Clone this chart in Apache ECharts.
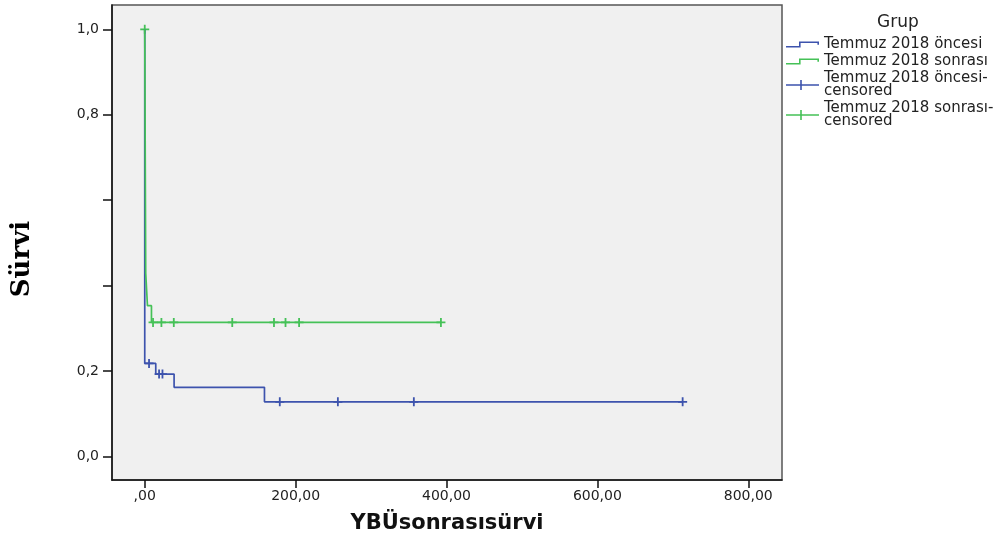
<!DOCTYPE html>
<html><head><meta charset="utf-8">
<script src="https://cdn.jsdelivr.net/npm/echarts@6/dist/echarts.min.js"></script>
<style>html,body{margin:0;padding:0;background:#fff}#c{width:1004px;height:543px}</style>
</head><body><div id="c"></div>
<script>
// ---- data ----
const seriesNames = ['Temmuz 2018 öncesi', 'Temmuz 2018 sonrası', 'Temmuz 2018 öncesi-censored', 'Temmuz 2018 sonrası-censored'];
const beforeStepTimes = [0, 0, 14.6, 38.9, 158.7, 713];
const beforeStepSurv  = [1.0, 0.218, 0.193, 0.162, 0.128, 0.128];
const afterStepTimes  = [0, 1.3, 3.6, 8.9, 392.6];
const afterStepSurv   = [1.0, 0.429, 0.353, 0.314, 0.314];
const beforeCensTimes = [5.7, 19, 23.5, 179, 256, 356.7, 713];
const beforeCensSurv  = [0.218, 0.193, 0.193, 0.128, 0.128, 0.128, 0.128];
const afterCensTimes  = [0, 11, 22.1, 38.5, 116, 171.3, 186.6, 204.6, 392.6];
const afterCensSurv   = [1.0, 0.314, 0.314, 0.314, 0.314, 0.314, 0.314, 0.314, 0.314];
const xTicks = [0, 200, 400, 600, 800];
const yTicks = [0, 0.2, 0.4, 0.6, 0.8, 1.0];
const yLabelTicks = [0, 0.2, 0.8, 1.0];

const BLUE = '#3d53ad', GREEN = '#45c157';
const zip = (a, b) => a.map((v, i) => [v, b[i]]);

const plusSymbol = 'path://M3.2,0 L4.8,0 L4.8,3.2 L8,3.2 L8,4.8 L4.8,4.8 L4.8,8 L3.2,8 L3.2,4.8 L0,4.8 L0,3.2 L3.2,3.2 Z';
const box = 'M0,0 L0,0 Z M33,10 L33,10 Z ';
const stepIcon = 'path://' + box + 'M0,6.5 L13,6.5 L13,2 L33,2 L33,5.2 L31.4,5.2 L31.4,3.6 L14.6,3.6 L14.6,8.1 L0,8.1 Z';
const censIcon = 'path://' + box + 'M0,4.2 L14.2,4.2 L14.2,0 L15.8,0 L15.8,4.2 L33,4.2 L33,5.8 L15.8,5.8 L15.8,10 L14.2,10 L14.2,5.8 L0,5.8 Z';

const chart = echarts.init(document.getElementById('c'), null, {renderer: 'canvas'});
chart.setOption({
  backgroundColor: '#ffffff',
  animation: false,
  title: {
    text: 'Grup', left: 872, top: 9,
    textStyle: {fontFamily: 'DejaVu Sans', fontSize: 17, fontWeight: 'normal', color: '#222'}
  },
  legend: {
    orient: 'vertical', left: 781, top: 32, itemGap: 2,
    itemWidth: 33, itemHeight: 10,
    itemStyle: {borderWidth: 0, opacity: 1},
    textStyle: {fontFamily: 'DejaVu Sans', fontSize: 15, lineHeight: 13, color: '#222'},
    formatter: n => n.replace('-censored', '-\ncensored'),
    data: [
      {name: seriesNames[0], icon: stepIcon},
      {name: seriesNames[1], icon: stepIcon},
      {name: seriesNames[2], icon: censIcon},
      {name: seriesNames[3], icon: censIcon}
    ]
  },
  grid: {
    left: 112, right: 222, top: 5, bottom: 63,
    show: true, backgroundColor: '#f0f0f0', borderColor: '#555', borderWidth: 1.5,
    outerBoundsMode: 'none'
  },
  xAxis: {
    type: 'value', min: -43.4, max: 844.7,
    name: 'YBÜsonrasısürvi', nameLocation: 'middle', nameGap: 33,
    nameTextStyle: {fontFamily: 'DejaVu Sans', fontSize: 21, fontWeight: 'bold', color: '#111'},
    axisLine: {show: true, onZero: false, lineStyle: {color: '#111', width: 1.5}},
    axisTick: {show: true, length: 8, lineStyle: {color: '#111', width: 1.5}, customValues: xTicks},
    axisLabel: {customValues: xTicks, margin: 9, fontFamily: 'DejaVu Sans', fontSize: 14, color: '#222',
      formatter: v => (v === 0 ? '' : String(v)) + ',00'},
    splitLine: {show: false}
  },
  yAxis: {
    type: 'value', min: -0.055, max: 1.057,
    axisLine: {show: true, onZero: false, lineStyle: {color: '#111', width: 1.5}},
    axisTick: {show: true, length: 9, lineStyle: {color: '#111', width: 1.5}, customValues: yTicks},
    axisLabel: {customValues: yLabelTicks, margin: 13, fontFamily: 'DejaVu Sans', fontSize: 14, color: '#222',
      formatter: v => v.toFixed(1).replace('.', ',')},
    splitLine: {show: false}
  },
  graphic: [{
    type: 'text', x: 22, y: 259, rotation: Math.PI / 2,
    style: {text: 'Sürvi', fontFamily: 'DejaVu Serif', fontWeight: 'bold', fontSize: 26, fill: '#000',
      textAlign: 'center', textVerticalAlign: 'middle'}
  }],
  series: [
    {name: seriesNames[0], type: 'line', step: 'end', showSymbol: false, color: BLUE,
      lineStyle: {color: BLUE, width: 1.7}, data: zip(beforeStepTimes, beforeStepSurv)},
    {name: seriesNames[1], type: 'line', step: 'end', showSymbol: false, color: GREEN,
      lineStyle: {color: GREEN, width: 1.7}, data: zip(afterStepTimes, afterStepSurv)},
    {name: seriesNames[2], type: 'scatter', symbol: plusSymbol, symbolSize: 9, color: BLUE,
      itemStyle: {color: BLUE, opacity: 1}, data: zip(beforeCensTimes, beforeCensSurv)},
    {name: seriesNames[3], type: 'scatter', symbol: plusSymbol, symbolSize: 9, color: GREEN,
      itemStyle: {color: GREEN, opacity: 1}, data: zip(afterCensTimes, afterCensSurv)}
  ]
});
</script>
</body></html>
